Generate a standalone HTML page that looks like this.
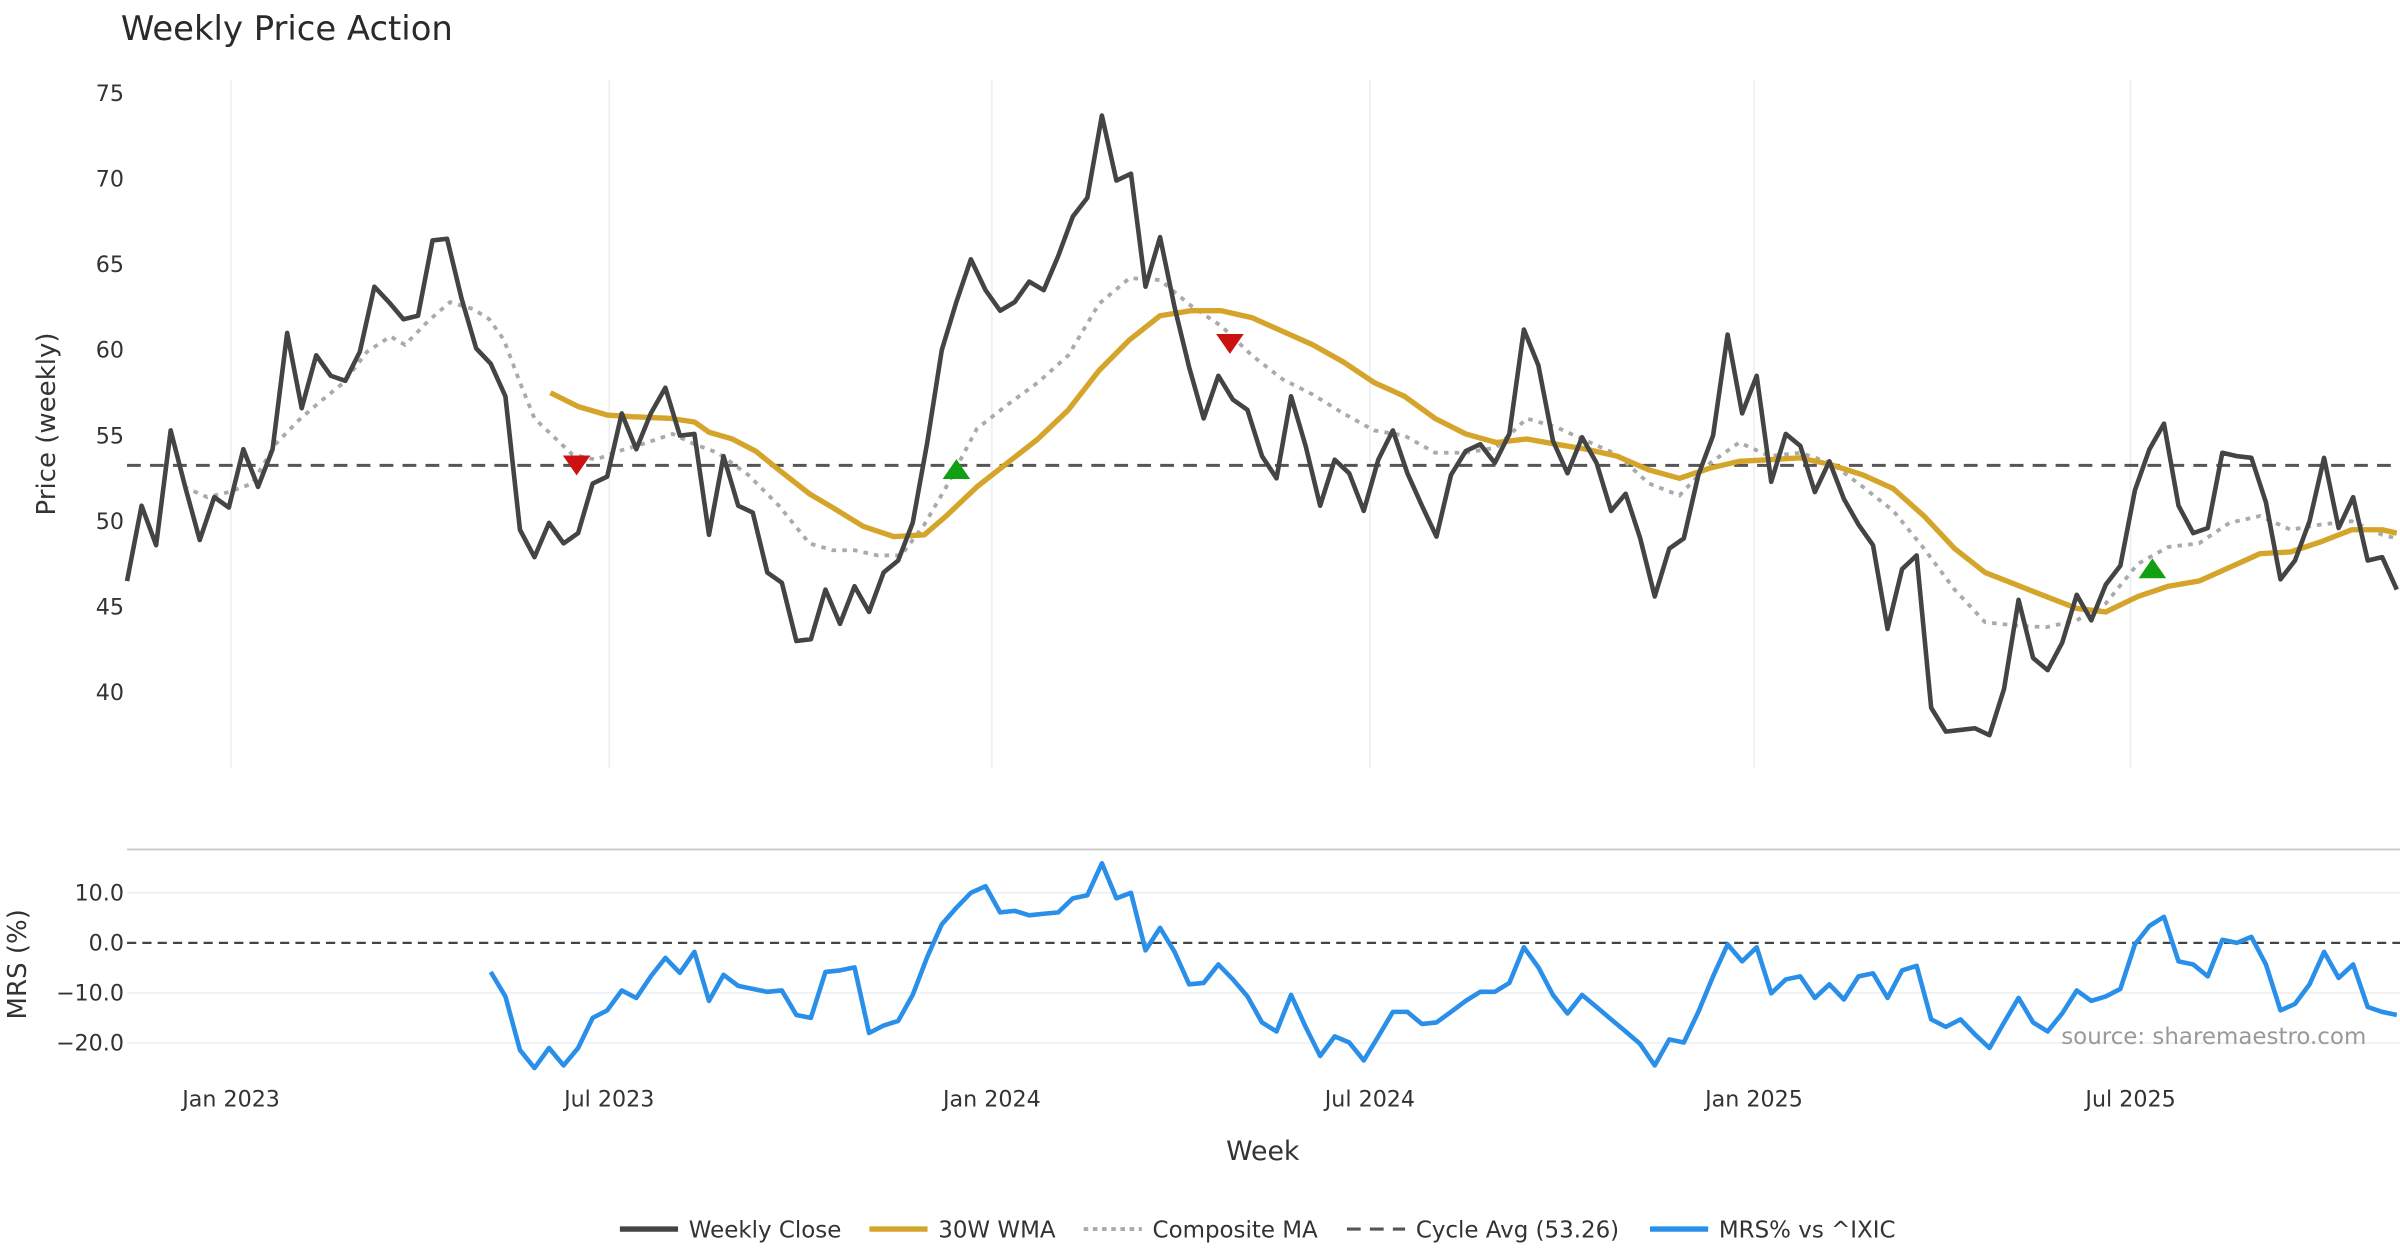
<!DOCTYPE html>
<html><head><meta charset="utf-8"><style>
html,body{margin:0;padding:0;background:#fff;}
svg{display:block;font-family:"DejaVu Sans","Liberation Sans",sans-serif;}
</style></head><body>
<svg id="chart" width="2400" height="1260" viewBox="0 0 1568 823.2" xmlns="http://www.w3.org/2000/svg">
<text x="79" y="26" font-size="22.1" fill="#2a2a2a">Weekly Price Action</text>
<g id="grid"></g>
<g id="axes"></g>
<g id="series"></g>
<text transform="translate(36,277) rotate(-90)" text-anchor="middle" font-size="17" fill="#333">Price (weekly)</text>
<text transform="translate(17,630) rotate(-90)" text-anchor="middle" font-size="17" fill="#333">MRS (%)</text>
<text x="825" y="758" text-anchor="middle" font-size="17.5" fill="#333">Week</text>
<text x="1546" y="682" text-anchor="end" font-size="15" fill="#999">source: sharemaestro.com</text>
<g font-size="15" fill="#333">
 <g><line x1="405" y1="803" x2="443" y2="803" stroke="#444" stroke-width="3.5"/><text x="450" y="808.5">Weekly Close</text></g>
 <g><line x1="568" y1="803" x2="606" y2="803" stroke="#D4A52A" stroke-width="3.5"/><text x="613" y="808.5">30W WMA</text></g>
 <g><line x1="708" y1="803" x2="746" y2="803" stroke="#aaa" stroke-width="2.5" stroke-dasharray="3,3"/><text x="753" y="808.5">Composite MA</text></g>
 <g><line x1="880" y1="803" x2="918" y2="803" stroke="#555" stroke-width="2" stroke-dasharray="9,6"/><text x="925" y="808.5">Cycle Avg (53.26)</text></g>
 <g><line x1="1078" y1="803" x2="1116" y2="803" stroke="#2A8FE8" stroke-width="3.5"/><text x="1123" y="808.5">MRS% vs ^IXIC</text></g>
</g>
</svg>
<script>
const closes=[46.5,50.9,48.6,55.3,52,48.9,51.4,50.8,54.2,52,54.2,61,56.6,59.7,58.5,58.2,59.9,63.7,62.8,61.8,62,66.4,66.5,63,60.1,59.2,57.3,49.5,47.9,49.9,48.7,49.3,52.2,52.6,56.3,54.2,56.3,57.8,55,55.1,49.2,53.8,50.9,50.5,47,46.4,43,43.1,46,44,46.2,44.7,47,47.7,49.9,54.6,60,62.8,65.3,63.5,62.3,62.8,64,63.5,65.5,67.8,68.9,73.7,69.9,70.3,63.7,66.6,62.5,59,56,58.5,57.1,56.5,53.8,52.5,57.3,54.4,50.9,53.6,52.8,50.6,53.6,55.3,52.8,50.9,49.1,52.7,54.1,54.5,53.4,55.1,61.2,59.1,54.7,52.8,54.9,53.4,50.6,51.6,49,45.6,48.4,49,52.7,55,60.9,56.3,58.5,52.3,55.1,54.4,51.7,53.5,51.3,49.8,48.6,43.7,47.2,48,39.1,37.7,37.8,37.9,37.5,40.2,45.4,42,41.3,42.9,45.7,44.2,46.3,47.4,51.8,54.2,55.7,50.9,49.3,49.6,54,53.8,53.7,51.1,46.6,47.7,50,53.7,49.6,51.4,47.7,47.9,46];
const wmaWeeks=[29.1,31,33,34.8,37.4,39,40,41.6,43.2,44.8,46.9,48.5,50.6,52.7,54.8,56.3,58.4,60.5,62.6,64.7,66.8,68.9,71,73.1,75.2,77.3,79.4,81.5,83.6,85.7,87.8,89.9,92,94.1,96.2,98.2,100.3,102.4,104.6,106.7,108.8,110.8,112.9,115,117.1,119.3,121.4,123.5,125.6,127.7,129.8,131.9,134,136,138.2,140.3,142.4,144.5,146.6,148.7,150.8,152.9,155,156];
const wmaVals=[57.5,56.7,56.2,56.1,56,55.8,55.2,54.8,54.1,53,51.6,50.8,49.7,49.1,49.2,50.3,52,53.4,54.8,56.5,58.8,60.6,62,62.3,62.3,61.9,61.1,60.3,59.3,58.1,57.3,56,55.1,54.6,54.8,54.5,54.2,53.8,53,52.5,53.1,53.5,53.6,53.7,53.3,52.7,51.9,50.3,48.4,47,46.3,45.6,44.9,44.7,45.6,46.2,46.5,47.3,48.1,48.2,48.8,49.5,49.5,49.3];
const compWeeks=[3.9,5.5,7,8.6,10.2,11.8,13.3,14.9,16.5,18.1,19.1,20.7,22.2,23.8,24.9,25.9,27,28,29,30.6,32.2,33.8,35.4,37.5,39,40.6,42.7,44.8,46.9,48.5,50,51.6,53.2,54.8,56.3,58.4,60.5,62.6,64.7,66.8,68.9,71,73.1,75.2,77.3,79.4,81.5,83.6,85.7,87.8,89.9,92,94.1,96.2,98.2,100.3,102.4,104.6,106.7,108.8,110.8,112.9,115,117.1,119.3,121.4,123.5,125.6,127.7,129.8,131.9,134,136,138.2,140.3,142.4,144.5,146.6,148.7,150.8,152.9,155,156];
const compVals=[52,51.4,51.7,52.2,54.5,55.9,57,58.1,59.9,60.8,60.3,61.7,62.8,62.4,61.8,60.6,58.1,56,55.2,53.9,53.6,54.1,54.5,55.1,54.5,54,52.7,50.9,48.7,48.3,48.3,48,48,49.8,52,55.4,56.8,58.1,59.7,62.7,64.2,64.1,62.6,61.4,59.7,58.3,57.4,56.3,55.3,55,54,54,54.3,56,55.5,54.7,53.9,52.2,51.5,53.4,54.6,53.8,54,53.4,52,50.6,48.4,46,44.1,43.9,43.8,44.2,45.2,47.5,48.5,48.7,49.9,50.3,49.5,49.8,50,49.2,49];
const signalWeeks=[30.9,57.0,75.8,139.2];
const signalPrices=[53.3,53.0,60.4,47.2];
const signalTypes=["sell","buy","sell","buy"];
const cycleAvg=53.26;
const mrsStart=25;
const mrsVals=[-5.8,-10.7,-21.4,-25,-21,-24.5,-21,-15,-13.5,-9.5,-11,-6.7,-3,-6,-1.8,-11.6,-6.4,-8.6,-9.2,-9.8,-9.5,-14.4,-15,-5.8,-5.5,-4.9,-18,-16.5,-15.6,-10.4,-2.8,3.7,7,10,11.3,6.1,6.4,5.5,5.8,6.1,8.9,9.5,15.9,8.9,10,-1.5,3,-1.8,-8.3,-8,-4.3,-7.3,-10.7,-15.9,-17.7,-10.4,-16.8,-22.6,-18.7,-19.9,-23.5,-18.7,-13.8,-13.8,-16.2,-15.9,-13.8,-11.6,-9.8,-9.8,-8,-0.9,-4.9,-10.4,-14.1,-10.4,-12.8,-15.3,-17.7,-20.2,-24.5,-19.3,-19.9,-13.8,-6.7,-0.3,-3.7,-0.9,-10.1,-7.3,-6.7,-11,-8.3,-11.3,-6.7,-6.1,-11,-5.5,-4.6,-15.3,-16.8,-15.3,-18.3,-21,-15.9,-11,-15.9,-17.7,-14.1,-9.5,-11.6,-10.7,-9.2,-0.3,3.4,5.2,-3.7,-4.3,-6.7,0.6,0,1.2,-4.3,-13.5,-12.2,-8.3,-1.8,-7,-4.3,-12.8,-13.8,-14.4];
const priceTicks=[40,45,50,55,60,65,70,75];
const mrsTicks=[10,0,-10,-20];
const mrsTickLabels=["10.0","0.0","\u221210.0","\u221220.0"];
const dateTicks=[7.15,33.14,59.44,85.42,111.82,137.7];
const dateLabels=["Jan 2023","Jul 2023","Jan 2024","Jul 2024","Jan 2025","Jul 2025"];

const NS="http://www.w3.org/2000/svg";
const X0=83, STEP=9.506;
const xOf=w=>X0+w*STEP;
const yP=p=>61+(75-p)*11.18;
const yM=v=>616-v*3.27;
function mk(tag,attrs,parent){const e=document.createElementNS(NS,tag);for(const k in attrs)e.setAttribute(k,attrs[k]);parent.appendChild(e);return e;}
const gridG=document.getElementById('grid'), axesG=document.getElementById('axes'), serG=document.getElementById('series');

dateTicks.forEach((w,i)=>{
  const l=mk('line',{x1:xOf(w),x2:xOf(w),y1:52,y2:502,stroke:'#eceff2','stroke-width':1},gridG);
  
  
  const t=mk('text',{x:xOf(w),y:723,'text-anchor':'middle','font-size':14.5,fill:'#333'},axesG);
  t.textContent=dateLabels[i];
  
  
});
priceTicks.forEach(p=>{
  const t=mk('text',{x:81,y:yP(p)+5,'text-anchor':'end','font-size':14.5,fill:'#333'},axesG);
  t.textContent=p;
  
  
});
const panelBorder=mk('line',{x1:83,x2:1568,y1:555,y2:555,stroke:'#ccc','stroke-width':1.3},gridG);


mrsTicks.forEach((v,i)=>{
  if(v!==0){const g=mk('line',{x1:83,x2:1568,y1:yM(v),y2:yM(v),stroke:'#eceff2','stroke-width':1},gridG);
  
  }
  const t=mk('text',{x:81,y:yM(v)+5,'text-anchor':'end','font-size':14.5,fill:'#333'},axesG);
  t.textContent=mrsTickLabels[i];
  
  
});
const zl=mk('line',{x1:83,x2:1568,y1:yM(0),y2:yM(0),stroke:'#444','stroke-width':1.5,'stroke-dasharray':'6,4'},serG);


const cl=mk('line',{x1:83,x2:1568,y1:yP(cycleAvg),y2:yP(cycleAvg),stroke:'#555','stroke-width':2,'stroke-dasharray':'9,6'},serG);



function pts(ws,vs,yf){return vs.map((v,i)=>xOf(ws(i)).toFixed(1)+','+yf(v).toFixed(1)).join(' ');}
const comp=mk('polyline',{points:pts(i=>compWeeks[i],compVals,yP),fill:'none',stroke:'#aaa','stroke-width':2.5,'stroke-dasharray':'3,4'},serG);


const wma=mk('polyline',{points:pts(i=>wmaWeeks[i],wmaVals,yP),fill:'none',stroke:'#D4A52A','stroke-width':3.5,'stroke-linejoin':'round'},serG);


const cls=mk('polyline',{points:pts(i=>i,closes,yP),fill:'none',stroke:'#444','stroke-width':3,'stroke-linejoin':'round'},serG);


signalWeeks.forEach((w,i)=>{
  const x=xOf(w), y=yP(signalPrices[i]);
  const d=signalTypes[i]==='sell'?`M${x-9},${y-6} L${x+9},${y-6} L${x},${y+7} Z`:`M${x-9},${y+6} L${x+9},${y+6} L${x},${y-7} Z`;
  const m=mk('path',{d:d,fill:signalTypes[i]==='sell'?'#CC1111':'#11A011'},serG);
  
  
});
const mrs=mk('polyline',{points:pts(i=>mrsStart+i,mrsVals,yM),fill:'none',stroke:'#2A8FE8','stroke-width':3,'stroke-linejoin':'round'},serG);


</script>
</body></html>
